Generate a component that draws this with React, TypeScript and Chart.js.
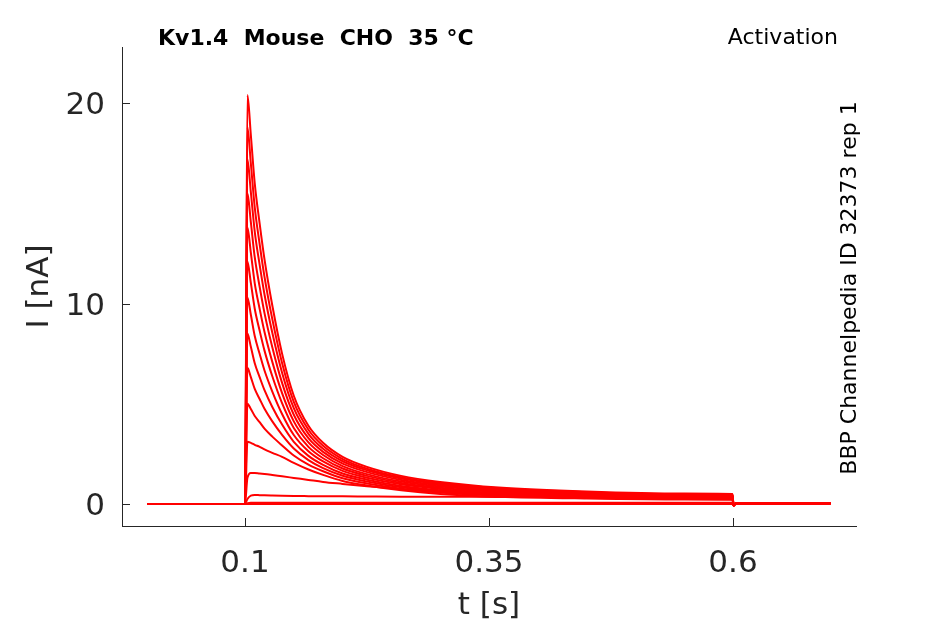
import { useEffect, useRef } from 'react';
import { Chart, registerables } from 'chart.js';

Chart.register(...registerables);

// sample times [s], shared by all sweeps
const TIME = [0, 0.1, 0.1025, 0.106, 0.11, 0.115, 0.12, 0.128, 0.138, 0.15, 0.165, 0.18, 0.2, 0.225, 0.26, 0.3, 0.36, 0.45, 0.55, 0.5995, 0.6005, 0.603, 0.7];

// current [nA] per sweep
const SWEEP_01 = [0, 0, 20.4, 18.4, 16.0, 14.0, 12.2, 9.9, 7.5, 5.4, 3.9, 3.05, 2.35, 1.85, 1.4, 1.1, 0.82, 0.62, 0.52, 0.5, -0.08, 0.03, 0.03];
const SWEEP_02 = [0, 0, 18.8, 16.99, 14.8, 12.97, 11.33, 9.22, 7.03, 5.09, 3.7, 2.9, 2.24, 1.76, 1.33, 1.04, 0.78, 0.59, 0.49, 0.47, -0.08, 0.03, 0.03];
const SWEEP_03 = [0, 0, 17.2, 15.56, 13.59, 11.94, 10.45, 8.54, 6.55, 4.78, 3.5, 2.75, 2.13, 1.68, 1.27, 0.99, 0.73, 0.56, 0.46, 0.45, -0.08, 0.03, 0.03];
const SWEEP_04 = [0, 0, 15.5, 14.06, 12.31, 10.84, 9.52, 7.82, 6.04, 4.45, 3.28, 2.6, 2.01, 1.59, 1.2, 0.93, 0.69, 0.52, 0.44, 0.42, -0.08, 0.03, 0.03];
const SWEEP_05 = [0, 0, 13.8, 12.54, 11.01, 9.74, 8.58, 7.09, 5.53, 4.12, 3.07, 2.44, 1.89, 1.49, 1.12, 0.87, 0.64, 0.49, 0.41, 0.39, -0.08, 0.03, 0.03];
const SWEEP_06 = [0, 0, 12.1, 11.03, 9.74, 8.65, 7.65, 6.37, 5.03, 3.79, 2.85, 2.28, 1.77, 1.4, 1.05, 0.81, 0.6, 0.45, 0.38, 0.36, -0.08, 0.03, 0.03];
const SWEEP_07 = [0, 0, 10.3, 9.44, 8.38, 7.49, 6.66, 5.61, 4.49, 3.44, 2.63, 2.12, 1.65, 1.31, 0.98, 0.75, 0.55, 0.42, 0.34, 0.33, -0.08, 0.03, 0.03];
const SWEEP_08 = [0, 0, 8.5, 7.84, 7.02, 6.33, 5.68, 4.84, 3.96, 3.1, 2.4, 1.95, 1.52, 1.21, 0.9, 0.69, 0.5, 0.38, 0.31, 0.3, -0.08, 0.03, 0.03];
const SWEEP_09 = [0, 0, 6.8, 6.33, 5.74, 5.24, 4.75, 4.12, 3.45, 2.77, 2.19, 1.79, 1.41, 1.12, 0.83, 0.63, 0.46, 0.34, 0.28, 0.27, -0.08, 0.03, 0.03];
const SWEEP_10 = [0, 0, 5.0, 4.74, 4.39, 4.08, 3.76, 3.36, 2.92, 2.42, 1.96, 1.63, 1.28, 1.02, 0.76, 0.57, 0.41, 0.31, 0.25, 0.24, -0.08, 0.03, 0.03];
const SWEEP_11 = [0, 0, 3.1, 3.05, 2.95, 2.85, 2.72, 2.55, 2.35, 2.05, 1.72, 1.45, 1.15, 0.92, 0.68, 0.5, 0.36, 0.27, 0.22, 0.21, -0.08, 0.03, 0.03];
const SWEEP_12 = [0, 0, 1.3, 1.55, 1.55, 1.52, 1.5, 1.45, 1.38, 1.3, 1.2, 1.1, 1.0, 0.88, 0.74, 0.6, 0.47, 0.37, 0.31, 0.3, -0.08, 0.03, 0.03];
const SWEEP_13 = [0, 0, 0.25, 0.42, 0.45, 0.44, 0.43, 0.42, 0.41, 0.4, 0.39, 0.38, 0.38, 0.37, 0.36, 0.36, 0.35, 0.35, 0.34, 0.34, -0.05, 0.03, 0.03];
const SWEEP_14 = [0, 0, 0.04, 0.06, 0.06, 0.06, 0.06, 0.06, 0.06, 0.06, 0.06, 0.06, 0.06, 0.06, 0.06, 0.06, 0.06, 0.06, 0.06, 0.06, 0.0, 0.02, 0.02];
const SWEEP_15 = [0, 0, 0, 0, 0, 0, 0, 0, 0, 0, 0, 0, 0, 0, 0, 0, 0, 0, 0, 0, 0, 0, 0];

const SWEEPS = [SWEEP_01, SWEEP_02, SWEEP_03, SWEEP_04, SWEEP_05, SWEEP_06, SWEEP_07, SWEEP_08,
    SWEEP_09, SWEEP_10, SWEEP_11, SWEEP_12, SWEEP_13, SWEEP_14, SWEEP_15];

const X_TICKS = [0.1, 0.35, 0.6];
const Y_TICKS = [0, 10, 20];

const AXIS_COLOR = '#262626';
const FONT = 'DejaVu Sans';

// inward tick marks + header / side texts
const overlayPlugin = {
    id: 'overlay',
    afterDraw(chart: Chart) {
        const { ctx, chartArea, scales } = chart;
        ctx.save();
        ctx.strokeStyle = AXIS_COLOR;
        ctx.lineWidth = 1;
        X_TICKS.forEach((v) => {
            const px = Math.round(scales.x.getPixelForValue(v)) + 0.5;
            ctx.beginPath();
            ctx.moveTo(px, chartArea.bottom);
            ctx.lineTo(px, chartArea.bottom - 8);
            ctx.stroke();
        });
        Y_TICKS.forEach((v) => {
            const py = Math.round(scales.y.getPixelForValue(v)) + 0.5;
            ctx.beginPath();
            ctx.moveTo(chartArea.left, py);
            ctx.lineTo(chartArea.left + 8, py);
            ctx.stroke();
        });

        ctx.fillStyle = '#000000';
        ctx.textBaseline = 'middle';
        ctx.font = `bold 22px "${FONT}"`;
        ctx.textAlign = 'left';
        ctx.fillText('Kv1.4  Mouse  CHO  35 °C', 158, 39);
        ctx.font = `22px "${FONT}"`;
        ctx.textAlign = 'right';
        ctx.fillText('Activation', 838, 38);

        ctx.translate(850, 288);
        ctx.rotate(-Math.PI / 2);
        ctx.textAlign = 'center';
        ctx.fillText('BBP Channelpedia ID 32373 rep 1', 0, 0);
        ctx.restore();
    },
};

const TraceChart = () => {
    const chartRef = useRef<HTMLCanvasElement | null>(null);
    const chartInstance = useRef<Chart | null>(null);

    useEffect(() => {
        document.body.style.margin = '0';
        if (chartRef.current) {
            if (chartInstance.current) {
                chartInstance.current.destroy();
            }

            const datasets = SWEEPS.map((sweep) => ({
                data: TIME.map((t, i) => ({ x: t, y: sweep[i] })),
                borderColor: '#ff0000',
                borderWidth: 2,
                pointRadius: 0,
                fill: false,
                cubicInterpolationMode: 'monotone' as const,
            }));

            chartInstance.current = new Chart(chartRef.current, {
                type: 'line',
                data: { datasets },
                options: {
                    animation: false,
                    responsive: true,
                    maintainAspectRatio: false,
                    devicePixelRatio: 1,
                    layout: {
                        padding: { left: 0, right: 89, top: 47, bottom: 0 },
                    },
                    plugins: {
                        legend: { display: false },
                        tooltip: { enabled: false },
                    },
                    scales: {
                        x: {
                            type: 'linear',
                            min: -0.026,
                            max: 0.726,
                            afterBuildTicks: (scale) => {
                                scale.ticks = X_TICKS.map((v) => ({ value: v }));
                            },
                            afterFit: (scale) => {
                                scale.height = 98;
                            },
                            grid: { display: false },
                            border: { display: true, color: AXIS_COLOR, width: 1 },
                            ticks: {
                                color: AXIS_COLOR,
                                font: { family: FONT, size: 31 },
                                padding: 11,
                                maxRotation: 0,
                                callback: (v) => String(v),
                            },
                            title: {
                                display: true,
                                text: 't [s]',
                                color: AXIS_COLOR,
                                font: { family: FONT, size: 31 },
                                padding: { top: 0, bottom: -1 },
                            },
                        },
                        y: {
                            type: 'linear',
                            min: -1.1,
                            max: 22.8,
                            afterBuildTicks: (scale) => {
                                scale.ticks = Y_TICKS.map((v) => ({ value: v }));
                            },
                            afterFit: (scale) => {
                                scale.width = 122;
                            },
                            grid: { display: false },
                            border: { display: true, color: AXIS_COLOR, width: 1 },
                            ticks: {
                                color: AXIS_COLOR,
                                font: { family: FONT, size: 31 },
                                padding: 9,
                                labelOffset: 3,
                                callback: (v) => String(v),
                            },
                            title: {
                                display: true,
                                text: 'I [nA]',
                                color: AXIS_COLOR,
                                font: { family: FONT, size: 31 },
                                padding: { top: 21, bottom: 0 },
                            },
                        },
                    },
                },
                plugins: [overlayPlugin],
            });
        }

        return () => {
            if (chartInstance.current) {
                chartInstance.current.destroy();
                chartInstance.current = null;
            }
        };
    }, []);

    return (
        <div style={{ position: 'relative', width: '945px', height: '624px' }}>
            <canvas ref={chartRef}></canvas>
        </div>
    );
};

export default function App() {
    return <TraceChart />;
}
